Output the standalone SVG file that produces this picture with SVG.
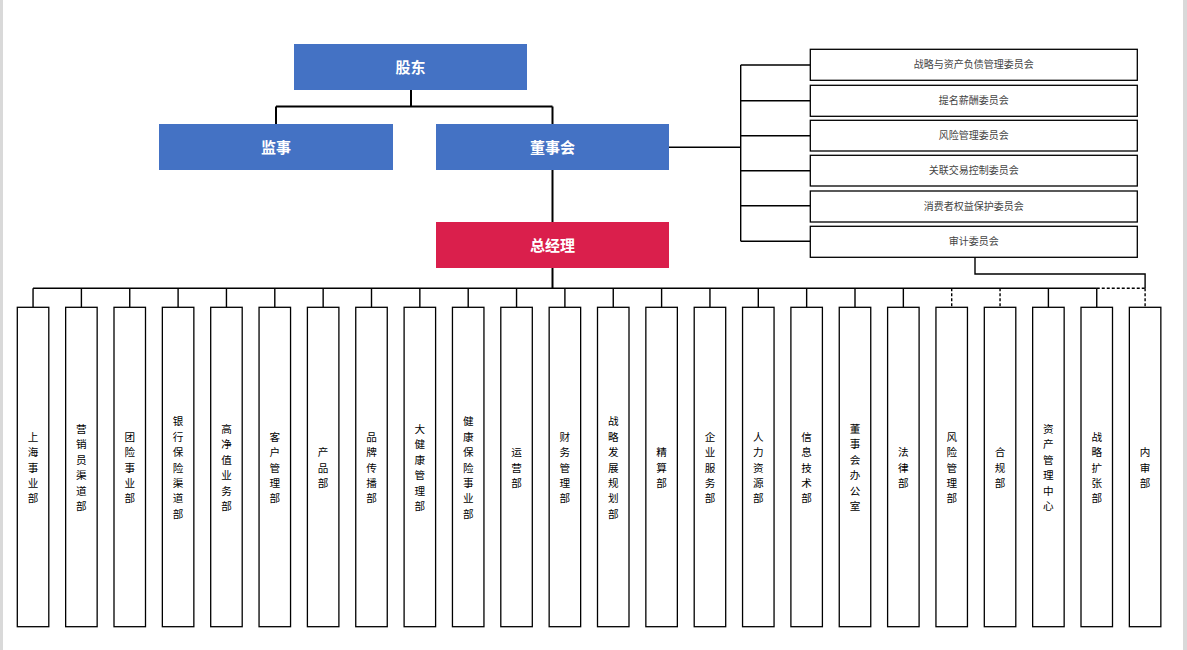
<svg xmlns="http://www.w3.org/2000/svg" width="1187" height="650" viewBox="0 0 1187 650">
<defs>
<style>
.top{fill:#4472C4}
.gm{fill:#DA1F4C}
.tt{font-family:"Noto Sans CJK SC","Noto Sans",sans-serif;font-size:15px;font-weight:bold;fill:#fff;text-anchor:middle}
.cb{fill:#fff;stroke:#000;stroke-width:1.3}
.ct{font-family:"Noto Sans CJK SC","Noto Sans",sans-serif;font-size:10px;fill:#444;text-anchor:middle}
.db{fill:#fff;stroke:#000;stroke-width:1.3}
.dt{font-family:"Noto Sans CJK SC","Noto Sans",sans-serif;font-size:10.6px;fill:#000;text-anchor:middle}
.ln{fill:none;stroke:#000;stroke-width:2}
.lt{fill:none;stroke:#000;stroke-width:1.4}
.ld{fill:none;stroke:#000;stroke-width:1.4;stroke-dasharray:3 2}
</style>
</defs>
<rect x="0" y="0" width="1187" height="650" fill="#fff"/>
<rect x="0" y="0" width="3" height="650" fill="#d9d9d9"/>
<rect x="1183" y="0" width="4" height="650" fill="#d9d9d9"/>

<g id="connectors">
<path class="ln" d="M411,89 V106.5 M276,106.5 H552.5 M276,106.5 V124 M552.5,106.5 V124"/>
<path class="ln" d="M552.5,169 V222"/>
<path class="lt" d="M669,147.3 H740.7 M740.7,65 V241.3 M740.7,65 H810 M740.7,100.8 H810 M740.7,135.7 H810 M740.7,170.8 H810 M740.7,205.8 H810 M740.7,241.3 H810"/>
<path class="lt" d="M975,257 V274 H1145.1 V288.3"/>
<path class="ln" d="M552.5,268 V288.3"/>
<path class="lt" d="M33.05,288.3 H1096.75"/>
<path class="ld" d="M1096.75,288.3 H1145.1"/>
<path class="lt" d="M33.05,288.3V307.3 M81.4,288.3V307.3 M129.75,288.3V307.3 M178.1,288.3V307.3 M226.45,288.3V307.3 M274.8,288.3V307.3 M323.15,288.3V307.3 M371.5,288.3V307.3 M419.85,288.3V307.3 M468.2,288.3V307.3 M516.55,288.3V307.3 M564.9,288.3V307.3 M613.25,288.3V307.3 M661.6,288.3V307.3 M709.95,288.3V307.3 M758.3,288.3V307.3 M806.65,288.3V307.3 M855,288.3V307.3 M903.35,288.3V307.3 M1048.4,288.3V307.3 M1096.75,288.3V307.3"/>
<path class="ld" d="M951.7,288.3V307.3 M1000.05,288.3V307.3 M1145.1,288.3V307.3"/>
</g>

<g id="n-gudong"><rect class="top" x="294" y="44" width="233" height="46"/><text class="tt" x="410.5" y="72.5">股东</text></g>
<g id="n-jianshi"><rect class="top" x="159" y="124" width="234" height="46"/><text class="tt" x="276" y="152.5">监事</text></g>
<g id="n-dongshihui"><rect class="top" x="436" y="124" width="233" height="46"/><text class="tt" x="552.5" y="152.5">董事会</text></g>
<g id="n-zongjingli"><rect class="gm" x="436" y="222" width="233" height="46"/><text class="tt" x="552.5" y="250.5">总经理</text></g>

<g id="c1"><rect class="cb" x="810.3" y="49.3" width="327" height="31"/><text class="ct" x="973.8" y="68.3">战略与资产负债管理委员会</text></g>
<g id="c2"><rect class="cb" x="810.3" y="85.3" width="327" height="31"/><text class="ct" x="973.8" y="104.3">提名薪酬委员会</text></g>
<g id="c3"><rect class="cb" x="810.3" y="120.3" width="327" height="30.7"/><text class="ct" x="973.8" y="139.2">风险管理委员会</text></g>
<g id="c4"><rect class="cb" x="810.3" y="155.3" width="327" height="30.7"/><text class="ct" x="973.8" y="174.2">关联交易控制委员会</text></g>
<g id="c5"><rect class="cb" x="810.3" y="191" width="327" height="31"/><text class="ct" x="973.8" y="210">消费者权益保护委员会</text></g>
<g id="c6"><rect class="cb" x="810.3" y="226.3" width="327" height="31"/><text class="ct" x="973.8" y="245.3">审计委员会</text></g>

<g id="d1"><rect class="db" x="17.3" y="307.3" width="31.5" height="319.4"/><text class="dt"><tspan x="33.05" y="440.7">上</tspan><tspan x="33.05" dy="15.4">海</tspan><tspan x="33.05" dy="15.4">事</tspan><tspan x="33.05" dy="15.4">业</tspan><tspan x="33.05" dy="15.4">部</tspan></text></g>
<g id="d2"><rect class="db" x="65.65" y="307.3" width="31.5" height="319.4"/><text class="dt"><tspan x="81.4" y="433">营</tspan><tspan x="81.4" dy="15.4">销</tspan><tspan x="81.4" dy="15.4">员</tspan><tspan x="81.4" dy="15.4">渠</tspan><tspan x="81.4" dy="15.4">道</tspan><tspan x="81.4" dy="15.4">部</tspan></text></g>
<g id="d3"><rect class="db" x="114" y="307.3" width="31.5" height="319.4"/><text class="dt"><tspan x="129.75" y="440.7">团</tspan><tspan x="129.75" dy="15.4">险</tspan><tspan x="129.75" dy="15.4">事</tspan><tspan x="129.75" dy="15.4">业</tspan><tspan x="129.75" dy="15.4">部</tspan></text></g>
<g id="d4"><rect class="db" x="162.35" y="307.3" width="31.5" height="319.4"/><text class="dt"><tspan x="178.1" y="425.3">银</tspan><tspan x="178.1" dy="15.4">行</tspan><tspan x="178.1" dy="15.4">保</tspan><tspan x="178.1" dy="15.4">险</tspan><tspan x="178.1" dy="15.4">渠</tspan><tspan x="178.1" dy="15.4">道</tspan><tspan x="178.1" dy="15.4">部</tspan></text></g>
<g id="d5"><rect class="db" x="210.7" y="307.3" width="31.5" height="319.4"/><text class="dt"><tspan x="226.45" y="433">高</tspan><tspan x="226.45" dy="15.4">净</tspan><tspan x="226.45" dy="15.4">值</tspan><tspan x="226.45" dy="15.4">业</tspan><tspan x="226.45" dy="15.4">务</tspan><tspan x="226.45" dy="15.4">部</tspan></text></g>
<g id="d6"><rect class="db" x="259.05" y="307.3" width="31.5" height="319.4"/><text class="dt"><tspan x="274.8" y="440.7">客</tspan><tspan x="274.8" dy="15.4">户</tspan><tspan x="274.8" dy="15.4">管</tspan><tspan x="274.8" dy="15.4">理</tspan><tspan x="274.8" dy="15.4">部</tspan></text></g>
<g id="d7"><rect class="db" x="307.4" y="307.3" width="31.5" height="319.4"/><text class="dt"><tspan x="323.15" y="456.1">产</tspan><tspan x="323.15" dy="15.4">品</tspan><tspan x="323.15" dy="15.4">部</tspan></text></g>
<g id="d8"><rect class="db" x="355.75" y="307.3" width="31.5" height="319.4"/><text class="dt"><tspan x="371.5" y="440.7">品</tspan><tspan x="371.5" dy="15.4">牌</tspan><tspan x="371.5" dy="15.4">传</tspan><tspan x="371.5" dy="15.4">播</tspan><tspan x="371.5" dy="15.4">部</tspan></text></g>
<g id="d9"><rect class="db" x="404.1" y="307.3" width="31.5" height="319.4"/><text class="dt"><tspan x="419.85" y="433">大</tspan><tspan x="419.85" dy="15.4">健</tspan><tspan x="419.85" dy="15.4">康</tspan><tspan x="419.85" dy="15.4">管</tspan><tspan x="419.85" dy="15.4">理</tspan><tspan x="419.85" dy="15.4">部</tspan></text></g>
<g id="d10"><rect class="db" x="452.45" y="307.3" width="31.5" height="319.4"/><text class="dt"><tspan x="468.2" y="425.3">健</tspan><tspan x="468.2" dy="15.4">康</tspan><tspan x="468.2" dy="15.4">保</tspan><tspan x="468.2" dy="15.4">险</tspan><tspan x="468.2" dy="15.4">事</tspan><tspan x="468.2" dy="15.4">业</tspan><tspan x="468.2" dy="15.4">部</tspan></text></g>
<g id="d11"><rect class="db" x="500.8" y="307.3" width="31.5" height="319.4"/><text class="dt"><tspan x="516.55" y="456.1">运</tspan><tspan x="516.55" dy="15.4">营</tspan><tspan x="516.55" dy="15.4">部</tspan></text></g>
<g id="d12"><rect class="db" x="549.15" y="307.3" width="31.5" height="319.4"/><text class="dt"><tspan x="564.9" y="440.7">财</tspan><tspan x="564.9" dy="15.4">务</tspan><tspan x="564.9" dy="15.4">管</tspan><tspan x="564.9" dy="15.4">理</tspan><tspan x="564.9" dy="15.4">部</tspan></text></g>
<g id="d13"><rect class="db" x="597.5" y="307.3" width="31.5" height="319.4"/><text class="dt"><tspan x="613.25" y="425.3">战</tspan><tspan x="613.25" dy="15.4">略</tspan><tspan x="613.25" dy="15.4">发</tspan><tspan x="613.25" dy="15.4">展</tspan><tspan x="613.25" dy="15.4">规</tspan><tspan x="613.25" dy="15.4">划</tspan><tspan x="613.25" dy="15.4">部</tspan></text></g>
<g id="d14"><rect class="db" x="645.85" y="307.3" width="31.5" height="319.4"/><text class="dt"><tspan x="661.6" y="456.1">精</tspan><tspan x="661.6" dy="15.4">算</tspan><tspan x="661.6" dy="15.4">部</tspan></text></g>
<g id="d15"><rect class="db" x="694.2" y="307.3" width="31.5" height="319.4"/><text class="dt"><tspan x="709.95" y="440.7">企</tspan><tspan x="709.95" dy="15.4">业</tspan><tspan x="709.95" dy="15.4">服</tspan><tspan x="709.95" dy="15.4">务</tspan><tspan x="709.95" dy="15.4">部</tspan></text></g>
<g id="d16"><rect class="db" x="742.55" y="307.3" width="31.5" height="319.4"/><text class="dt"><tspan x="758.3" y="440.7">人</tspan><tspan x="758.3" dy="15.4">力</tspan><tspan x="758.3" dy="15.4">资</tspan><tspan x="758.3" dy="15.4">源</tspan><tspan x="758.3" dy="15.4">部</tspan></text></g>
<g id="d17"><rect class="db" x="790.9" y="307.3" width="31.5" height="319.4"/><text class="dt"><tspan x="806.65" y="440.7">信</tspan><tspan x="806.65" dy="15.4">息</tspan><tspan x="806.65" dy="15.4">技</tspan><tspan x="806.65" dy="15.4">术</tspan><tspan x="806.65" dy="15.4">部</tspan></text></g>
<g id="d18"><rect class="db" x="839.25" y="307.3" width="31.5" height="319.4"/><text class="dt"><tspan x="855" y="433">董</tspan><tspan x="855" dy="15.4">事</tspan><tspan x="855" dy="15.4">会</tspan><tspan x="855" dy="15.4">办</tspan><tspan x="855" dy="15.4">公</tspan><tspan x="855" dy="15.4">室</tspan></text></g>
<g id="d19"><rect class="db" x="887.6" y="307.3" width="31.5" height="319.4"/><text class="dt"><tspan x="903.35" y="456.1">法</tspan><tspan x="903.35" dy="15.4">律</tspan><tspan x="903.35" dy="15.4">部</tspan></text></g>
<g id="d20"><rect class="db" x="935.95" y="307.3" width="31.5" height="319.4"/><text class="dt"><tspan x="951.7" y="440.7">风</tspan><tspan x="951.7" dy="15.4">险</tspan><tspan x="951.7" dy="15.4">管</tspan><tspan x="951.7" dy="15.4">理</tspan><tspan x="951.7" dy="15.4">部</tspan></text></g>
<g id="d21"><rect class="db" x="984.3" y="307.3" width="31.5" height="319.4"/><text class="dt"><tspan x="1000.05" y="456.1">合</tspan><tspan x="1000.05" dy="15.4">规</tspan><tspan x="1000.05" dy="15.4">部</tspan></text></g>
<g id="d22"><rect class="db" x="1032.65" y="307.3" width="31.5" height="319.4"/><text class="dt"><tspan x="1048.4" y="433">资</tspan><tspan x="1048.4" dy="15.4">产</tspan><tspan x="1048.4" dy="15.4">管</tspan><tspan x="1048.4" dy="15.4">理</tspan><tspan x="1048.4" dy="15.4">中</tspan><tspan x="1048.4" dy="15.4">心</tspan></text></g>
<g id="d23"><rect class="db" x="1081" y="307.3" width="31.5" height="319.4"/><text class="dt"><tspan x="1096.75" y="440.7">战</tspan><tspan x="1096.75" dy="15.4">略</tspan><tspan x="1096.75" dy="15.4">扩</tspan><tspan x="1096.75" dy="15.4">张</tspan><tspan x="1096.75" dy="15.4">部</tspan></text></g>
<g id="d24"><rect class="db" x="1129.35" y="307.3" width="31.5" height="319.4"/><text class="dt"><tspan x="1145.1" y="456.1">内</tspan><tspan x="1145.1" dy="15.4">审</tspan><tspan x="1145.1" dy="15.4">部</tspan></text></g>
</svg>
